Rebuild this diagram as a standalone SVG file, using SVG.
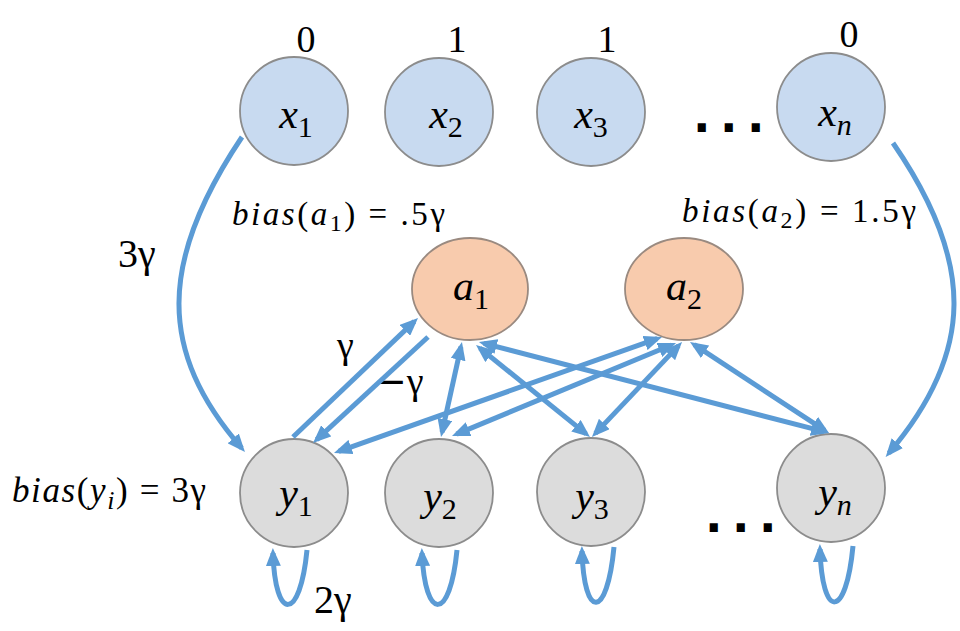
<svg xmlns="http://www.w3.org/2000/svg" width="960" height="631" viewBox="0 0 960 631">
<style>
.xn{fill:#c8daf0;stroke:#8c8c8c;stroke-width:1.8}
.an{fill:#f8cbad;stroke:#9a8a80;stroke-width:1.8}
.yn{fill:#dcdcdc;stroke:#8c8c8c;stroke-width:1.8}
.lbl{font-family:'Liberation Serif','Open Sans',serif;font-size:42px;fill:#000;text-anchor:middle}
.v{font-style:italic}
.sub{font-size:30px}
.t{font-family:'Liberation Serif','Open Sans',serif;fill:#000}
.e{fill:none;stroke:#5b9bd5;stroke-width:5}
.dots{font-family:'DejaVu Sans',sans-serif;font-weight:bold;font-size:46px;letter-spacing:9.5px;fill:#000}
</style>
<defs>
<marker id="ah" viewBox="0 0 18 15" markerUnits="userSpaceOnUse" markerWidth="18" markerHeight="15" refX="13" refY="7.5" orient="auto-start-reverse">
<path d="M0,0 L18,7.5 L0,15 z" fill="#5b9bd5"/>
</marker>
</defs>

<g id="x1"><circle class="xn" cx="294" cy="111" r="54"/><text class="lbl" x="296" y="128"><tspan class="v">x</tspan><tspan class="sub" dy="9">1</tspan></text></g>
<g id="x2"><circle class="xn" cx="439" cy="112" r="54"/><text class="lbl" x="446" y="128"><tspan class="v">x</tspan><tspan class="sub" dy="9">2</tspan></text></g>
<g id="x3"><circle class="xn" cx="591" cy="112" r="54"/><text class="lbl" x="591" y="128"><tspan class="v">x</tspan><tspan class="sub" dy="9">3</tspan></text></g>
<g id="xn"><circle class="xn" cx="831" cy="107" r="54"/><text class="lbl" x="835" y="126"><tspan class="v">x</tspan><tspan class="sub v" dy="9">n</tspan></text></g>

<g id="a1"><ellipse class="an" cx="470" cy="289" rx="58" ry="51"/><text class="lbl" x="471" y="300"><tspan class="v">a</tspan><tspan class="sub" dy="9">1</tspan></text></g>
<g id="a2"><ellipse class="an" cx="684" cy="289" rx="59" ry="51"/><text class="lbl" x="684" y="300"><tspan class="v">a</tspan><tspan class="sub" dy="9">2</tspan></text></g>

<g id="y1"><circle class="yn" cx="294" cy="493" r="54"/><text class="lbl" x="296" y="507"><tspan class="v">y</tspan><tspan class="sub" dy="9">1</tspan></text></g>
<g id="y2"><circle class="yn" cx="439" cy="493" r="54"/><text class="lbl" x="440" y="510"><tspan class="v">y</tspan><tspan class="sub" dy="9">2</tspan></text></g>
<g id="y3"><circle class="yn" cx="591" cy="492" r="54"/><text class="lbl" x="592" y="510"><tspan class="v">y</tspan><tspan class="sub" dy="9">3</tspan></text></g>
<g id="yn"><circle class="yn" cx="831" cy="488" r="54"/><text class="lbl" x="835" y="506"><tspan class="v">y</tspan><tspan class="sub v" dy="9">n</tspan></text></g>

<g id="labels">
<text class="t" x="306" y="52" font-size="38" text-anchor="middle">0</text>
<text class="t" x="457" y="52" font-size="38" text-anchor="middle">1</text>
<text class="t" x="607" y="52" font-size="38" text-anchor="middle">1</text>
<text class="t" x="849" y="47" font-size="38" text-anchor="middle">0</text>
<text class="dots" x="693" y="132">...</text>
<text class="dots" x="705" y="532">...</text>
<text class="t" x="232" y="225" font-size="33" textLength="213" lengthAdjust="spacing"><tspan font-style="italic">bias</tspan>(<tspan font-style="italic">a</tspan><tspan font-size="24" dy="6">1</tspan><tspan dy="-6">)  = .5γ</tspan></text>
<text class="t" x="682" y="222" font-size="33" textLength="234" lengthAdjust="spacing"><tspan font-style="italic">bias</tspan>(<tspan font-style="italic">a</tspan><tspan font-size="24" dy="6">2</tspan><tspan dy="-6">)  = 1.5γ</tspan></text>
<text class="t" x="12" y="502" font-size="35" textLength="194" lengthAdjust="spacing"><tspan font-style="italic">bias</tspan>(<tspan font-style="italic">y</tspan><tspan font-size="26" font-style="italic" dy="7">i</tspan><tspan dy="-7">) = 3γ</tspan></text>
<text class="t" x="118" y="267" font-size="40">3γ</text>
<text class="t" x="337" y="358" font-size="38">γ</text>
<text class="t" x="375" y="394" font-size="38"><tspan font-family="'DejaVu Sans',sans-serif">−</tspan>γ</text>
<text class="t" x="314" y="613" font-size="40">2γ</text>
</g>

<g id="connectors">
<path class="e" d="M242,137 C158,262 158,352 241.7,448.2" marker-end="url(#ah)"/>
<path class="e" d="M893,143 C975,262 975,352 888.9,453.1" marker-end="url(#ah)"/>
<path class="e" d="M293,437 L414.4,321.4" marker-end="url(#ah)"/>
<path class="e" d="M428,337 L316.7,439.6" marker-end="url(#ah)"/>
<path class="e" d="M460.9,346.9 L442.1,432.1" marker-start="url(#ah)" marker-end="url(#ah)"/>
<path class="e" d="M479.9,348.1 L586.1,433.9" marker-start="url(#ah)" marker-end="url(#ah)"/>
<path class="e" d="M483.8,343.3 L824.2,431.7" marker-start="url(#ah)" marker-end="url(#ah)"/>
<path class="e" d="M657.3,338.7 L338.7,451.3" marker-start="url(#ah)" marker-end="url(#ah)"/>
<path class="e" d="M671.4,345 L456.6,434.1" marker-start="url(#ah)" marker-end="url(#ah)"/>
<path class="e" d="M678.6,345.6 L595.4,433.4" marker-start="url(#ah)" marker-end="url(#ah)"/>
<path class="e" d="M694.2,344.7 L824.8,430.3" marker-start="url(#ah)" marker-end="url(#ah)"/>
<path class="e" d="M307,550 C300,622 275,622 273,553" marker-end="url(#ah)"/>
<path class="e" d="M457,550 C450,622 425,622 422,553" marker-end="url(#ah)"/>
<path class="e" d="M614,547 C607,620 584,620 582,551" marker-end="url(#ah)"/>
<path class="e" d="M853,546 C846,620 822,620 820,549" marker-end="url(#ah)"/>
</g>
</svg>
